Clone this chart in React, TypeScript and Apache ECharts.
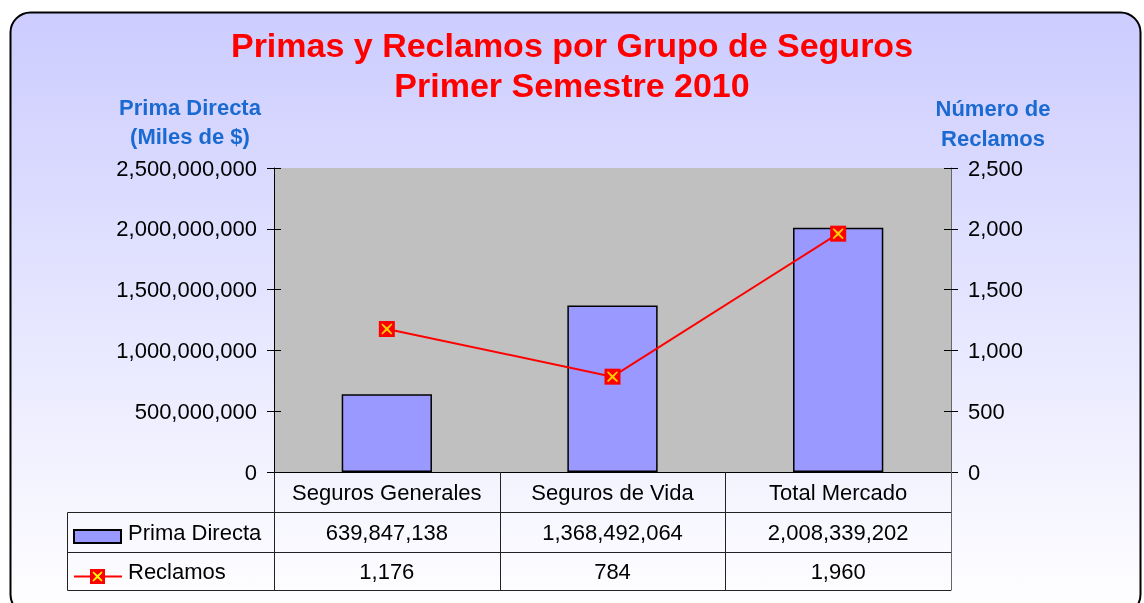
import React, { useEffect, useRef } from "react";
import * as echarts from "echarts";

const categories = ["Seguros Generales", "Seguros de Vida", "Total Mercado"];
const primaDirecta = [639847138, 1368492064, 2008339202];
const reclamos = [1176, 784, 1960];
const leftAxis = { min: 0, max: 2500000000, interval: 500000000 };
const rightAxis = { min: 0, max: 2500, interval: 500 };
const titleLines = ["Primas y Reclamos por Grupo de Seguros", "Primer Semestre 2010"];
const leftTitle = ["Prima Directa", "(Miles de $)"];
const rightTitle = ["Número de", "Reclamos"];
const seriesNames = ["Prima Directa", "Reclamos"];

const FONT = "'Liberation Sans', Arial, sans-serif";
const fmt = (v: number) => v.toLocaleString("en-US");
const X_PATH =
  "path://M1,0 L5,3.6 L9,0 L10,1 L6.4,5 L10,9 L9,10 L5,6.4 L1,10 L0,9 L3.6,5 L0,1 Z";

const GRID = { left: 274, right: 951, top: 168, bottom: 472 };
const ROW2 = 512.5;
const ROW3 = 552.5;
const TABLE_BOTTOM = 590.5;
const TABLE_LEFT = 67.5;

export default function App() {
  const ref = useRef<HTMLDivElement>(null);
  useEffect(() => {
    if (!ref.current) return;
    const chart = echarts.init(ref.current, null, { renderer: "svg" });
    const yBase = {
      type: "value" as const,
      splitLine: { show: false },
    };
    chart.setOption({
      animation: false,
      textStyle: { fontFamily: FONT },
      title: {
        text: titleLines.join("\n"),
        left: "center",
        top: 20,
        textStyle: {
          fontFamily: FONT,
          fontSize: 34,
          lineHeight: 40,
          fontWeight: "bold",
          color: "#FF0000",
        },
      },
      grid: {
        left: GRID.left,
        right: 1144 - GRID.right,
        top: GRID.top,
        bottom: 603 - GRID.bottom,
        show: true,
        backgroundColor: "#C0C0C0",
        borderWidth: 0,
      },
      xAxis: {
        type: "category",
        data: categories,
        axisTick: { show: false },
        axisLine: { lineStyle: { color: "#000", width: 1 } },
        axisLabel: { interval: 0, margin: 9, fontSize: 22, color: "#000", fontFamily: FONT },
        z: 5,
      },
      yAxis: [
        {
          ...yBase,
          ...leftAxis,
          position: "left",
          axisLine: { show: true, lineStyle: { color: "#000", width: 1 } },
          axisTick: { show: true, length: 7, lineStyle: { color: "#000" } },
          axisLabel: { margin: 17, fontSize: 22, color: "#000", fontFamily: FONT, formatter: (v: number) => fmt(v) },
        },
        {
          ...yBase,
          ...rightAxis,
          position: "right",
          axisLine: { show: true, lineStyle: { color: "#666", width: 1 } },
          axisTick: { show: true, length: 7, lineStyle: { color: "#000" } },
          axisLabel: { margin: 17, fontSize: 22, color: "#000", fontFamily: FONT, formatter: (v: number) => fmt(v) },
        },
        {
          ...yBase,
          ...leftAxis,
          position: "left",
          axisLine: { show: false },
          axisTick: { show: true, inside: true, length: 7, lineStyle: { color: "#000" } },
          axisLabel: { show: false },
        },
        {
          ...yBase,
          ...rightAxis,
          position: "right",
          axisLine: { show: false },
          axisTick: { show: true, inside: true, length: 7, lineStyle: { color: "#000" } },
          axisLabel: { show: false },
        },
      ],
      series: [
        {
          name: seriesNames[0],
          type: "bar",
          yAxisIndex: 0,
          data: primaDirecta,
          barWidth: "40%",
          itemStyle: { color: "#9999FF", borderColor: "#000", borderWidth: 1.5 },
          z: 2,
        },
        {
          name: seriesNames[1],
          type: "line",
          yAxisIndex: 1,
          data: reclamos,
          symbol: "rect",
          symbolSize: 16,
          itemStyle: { color: "#FF0000" },
          lineStyle: { color: "#FF0000", width: 2 },
          z: 3,
        },
        {
          type: "scatter",
          yAxisIndex: 1,
          data: reclamos,
          symbol: X_PATH,
          symbolSize: 11,
          itemStyle: { color: "#FFFF00" },
          silent: true,
          z: 4,
        },
      ],
    });

    const centers = categories.map((_, i) => chart.convertToPixel({ xAxisIndex: 0 }, i) as number);
    const band = centers.length > 1 ? centers[1] - centers[0] : GRID.right - GRID.left;
    const bounds = [centers[0] - band / 2, ...centers.map((c) => c + band / 2)];

    const lineStyle = { stroke: "#222", lineWidth: 1 };
    const tableLines: any[] = [];
    [ROW2, ROW3, TABLE_BOTTOM].forEach((y) =>
      tableLines.push({ type: "line", shape: { x1: TABLE_LEFT, y1: y, x2: bounds[bounds.length - 1], y2: y }, style: lineStyle, z: 10 })
    );
    tableLines.push({ type: "line", shape: { x1: TABLE_LEFT, y1: ROW2, x2: TABLE_LEFT, y2: TABLE_BOTTOM }, style: lineStyle, z: 10 });
    bounds.forEach((x, i) =>
      tableLines.push({
        type: "line",
        shape: { x1: Math.round(x) + 0.5, y1: GRID.bottom, x2: Math.round(x) + 0.5, y2: TABLE_BOTTOM },
        style: { stroke: i === bounds.length - 1 ? "#666" : "#222", lineWidth: 1 },
        z: 10,
      })
    );

    const cellText = (x: number, y: number, t: string) => ({
      type: "text",
      x,
      y,
      style: { text: t, fontSize: 22, fontFamily: FONT, fill: "#000", align: "center", verticalAlign: "middle" },
      z: 10,
    });
    const r2 = (ROW2 + ROW3) / 2;
    const r3 = (ROW3 + TABLE_BOTTOM) / 2;
    const values: any[] = [];
    centers.forEach((c, i) => {
      values.push(cellText(c, r2, fmt(primaDirecta[i])));
      values.push(cellText(c, r3, fmt(reclamos[i])));
    });

    const xPts = (cx: number, cy: number, s: number) => {
      const p = [
        [1, 0], [5, 3.6], [9, 0], [10, 1], [6.4, 5], [10, 9], [9, 10], [5, 6.4], [1, 10], [0, 9], [3.6, 5], [0, 1],
      ];
      return p.map(([a, b]) => [cx - s / 2 + (a * s) / 10, cy - s / 2 + (b * s) / 10]);
    };

    const titleText = (x: number, y: number, t: string) => ({
      type: "text",
      x,
      y,
      style: { text: t, fontSize: 22, fontWeight: "bold", fontFamily: FONT, fill: "#1A6AD2", align: "center", verticalAlign: "middle" },
      z: 10,
    });

    chart.setOption({
      graphic: [
        {
          type: "rect",
          shape: { x: 10.5, y: 12.5, width: 1130, height: 602, r: 20 },
          style: {
            fill: new echarts.graphic.LinearGradient(0, 0, 0, 1, [
              { offset: 0, color: "#CCCCFF" },
              { offset: 1, color: "#FFFFFF" },
            ]),
            stroke: "#000",
            lineWidth: 2,
          },
          z: -100,
          silent: true,
        },
        titleText(190, 107, leftTitle[0]),
        titleText(190, 136, leftTitle[1]),
        titleText(993, 108, rightTitle[0]),
        titleText(993, 138, rightTitle[1]),
        ...tableLines,
        ...values,
        {
          type: "rect",
          shape: { x: 74, y: 530, width: 47, height: 13 },
          style: { fill: "#9999FF", stroke: "#000", lineWidth: 2 },
          z: 10,
        },
        {
          type: "text",
          x: 128,
          y: r2,
          style: { text: seriesNames[0], fontSize: 22, fontFamily: FONT, fill: "#000", align: "left", verticalAlign: "middle" },
          z: 10,
        },
        {
          type: "line",
          shape: { x1: 74, y1: 576.5, x2: 122, y2: 576.5 },
          style: { stroke: "#FF0000", lineWidth: 2 },
          z: 10,
        },
        {
          type: "rect",
          shape: { x: 90, y: 569, width: 15, height: 15 },
          style: { fill: "#FF0000" },
          z: 11,
        },
        {
          type: "polygon",
          shape: { points: xPts(97.5, 576.5, 10) },
          style: { fill: "#FFFF00" },
          z: 12,
        },
        {
          type: "text",
          x: 128,
          y: r3,
          style: { text: seriesNames[1], fontSize: 22, fontFamily: FONT, fill: "#000", align: "left", verticalAlign: "middle" },
          z: 10,
        },
      ],
    });

    return () => chart.dispose();
  }, []);

  return (
    <div
      ref={ref}
      style={{ position: "fixed", left: 0, top: 0, width: 1144, height: 603 }}
    />
  );
}
